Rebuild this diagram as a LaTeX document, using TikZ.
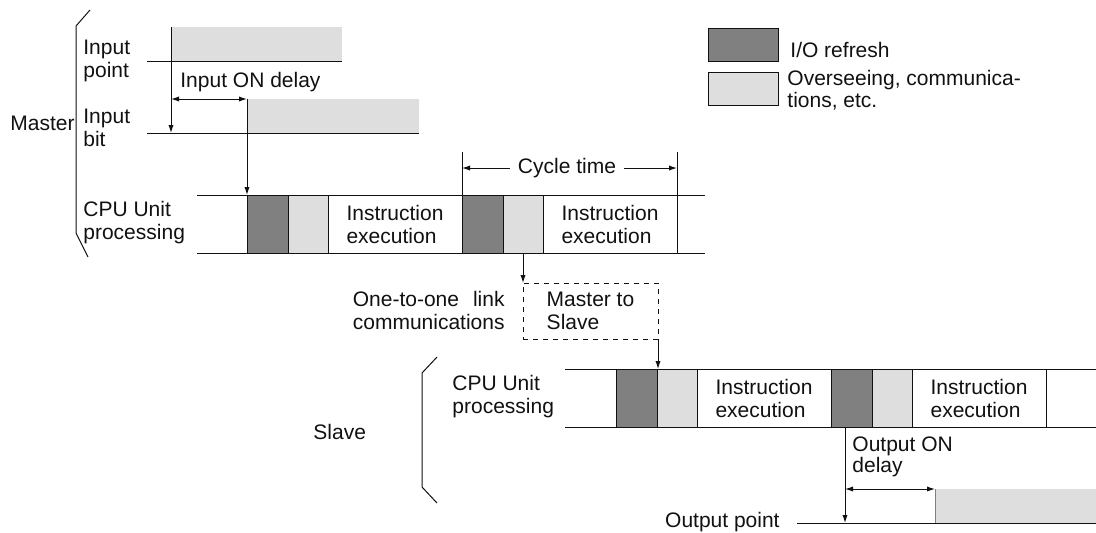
\documentclass[tikz,border=0pt]{standalone}
\usepackage{fontspec}
\setmainfont{Liberation Sans}
\usetikzlibrary{arrows.meta,positioning}
\definecolor{iofill}{HTML}{808080}
\definecolor{ovfill}{HTML}{DEDEDE}
\definecolor{ink}{HTML}{111111}
\tikzset{
  >={Latex[length=4pt,width=2.6pt]},
  every node/.style={font=\fontsize{10.5}{11.5}\selectfont,text=ink},
  lbl/.style={align=left,inner sep=0pt},
  blk/.style={draw=ink,line width=0.5pt,minimum height=29pt,inner sep=0pt,outer sep=0pt,align=left},
  iobox/.style={blk,fill=iofill,minimum width=20.5pt},
  ovbox/.style={blk,fill=ovfill,minimum width=20pt},
  exbox/.style={blk,fill=white,minimum width=67pt},
  sig/.style={fill=ovfill,draw=none,inner sep=0pt,outer sep=0pt,minimum height=17pt},
  msgbox/.style={draw=ink,line width=0.5pt,dash pattern=on 2.5pt off 2.5pt,inner sep=0pt,outer sep=0pt,minimum width=67.5pt,minimum height=28pt,align=left},
  rowline/.style={draw=ink,line width=0.5pt},
  arrow/.style={->,line width=0.5pt,draw=ink},
  span/.style={<->,line width=0.5pt,draw=ink},
}

\begin{document}
\begin{tikzpicture}[x=0.5pt,y=-0.5pt]
  \useasboundingbox (0,0) rectangle (1096,532);

  \node[iobox,minimum width=35pt,minimum height=16.5pt,anchor=north west] (legio) at (708,28) {};
  \node[ovbox,minimum width=35pt,minimum height=16.5pt,anchor=north west] (legov) at (708,72) {};
  \node[lbl,anchor=west] (legiolbl) at (790,50) {I/O refresh};
  \node[lbl,anchor=west,font=\fontsize{10.5}{9.5}\selectfont] (legovlbl) at (787,90) {Overseeing, communica-\\tions, etc.};

  \draw[rowline] (90,10) -- (76,26) -- (76,233) -- (88,257);
  \node[lbl,anchor=west] (master) at (10,123) {Master};
  \node[lbl,anchor=west] (iptlbl) at (83,61) {Input\\point};
  \node[lbl,anchor=west] (ibitlbl) at (83,128) {Input\\bit};
  \node[lbl,anchor=west] (mcpulbl) at (83,223) {CPU Unit\\processing};

  \node[sig,anchor=north west,minimum width=85.5pt] (ipt) at (171,27) {};
  \node[sig,anchor=north west,minimum width=86pt] (ibit) at (247,99) {};
  \coordinate (iptL) at (147,61);
  \coordinate (ibitL) at (147,133);
  \draw[rowline] (iptL) -- (ipt.south east);
  \draw[rowline] (ibitL) -- (ibit.south east);
  \node[lbl,anchor=west] (idlylbl) at (180,82) {Input ON delay};

  \draw[rowline] (197,195) -- (705,195) (197,253) -- (705,253);
  \node[iobox,anchor=north west] (mio1) at (247,195) {};
  \node[ovbox,right=0pt of mio1] (mov1) {};
  \node[exbox,right=0pt of mov1] (mex1) {Instruction\\execution};
  \node[iobox,right=0pt of mex1] (mio2) {};
  \node[ovbox,right=0pt of mio2] (mov2) {};
  \node[exbox,right=0pt of mov2] (mex2) {Instruction\\execution};

  \draw[arrow] (ipt.north west) -- (ipt.north west |- ibit.south);
  \draw[span] (ipt.west |- ibit.north) -- (ibit.north west);
  \draw[arrow] (ibit.north west) -- (mio1.north west);

  \node[inner xsep=4pt,inner ysep=0pt] (cyc) at (567,168) {Cycle time};
  \draw[rowline] (mio2.north west) -- ++(0,-43);
  \draw[rowline] (mex2.north east) -- ++(0,-43);
  \draw[arrow] (cyc.west) -- (cyc.west -| mio2.west);
  \draw[arrow] (cyc.east) -- (cyc.east -| mex2.east);

  \node[msgbox,anchor=north west] (msg) at (523,283) {Master to\\Slave};
  \node[lbl,anchor=east,align=right] (linklbl) at (505,310) {One-to-one\hspace{7pt}link\\communications};
  \draw[arrow] (mov2.south) -- (msg.north west);

  \draw[rowline] (437,357) -- (422,373) -- (422,487) -- (437,503);
  \node[lbl,anchor=west] (slave) at (313,432) {Slave};
  \node[lbl,anchor=west] (scpulbl) at (452,397) {CPU Unit\\processing};

  \draw[rowline] (565,369) -- (1096,369) (565,427) -- (1096,427);
  \node[iobox,anchor=north west] (sio1) at (616,369) {};
  \node[ovbox,right=0pt of sio1] (sov1) {};
  \node[exbox,right=0pt of sov1] (sex1) {Instruction\\execution};
  \node[iobox,right=0pt of sex1] (sio2) {};
  \node[ovbox,right=0pt of sio2] (sov2) {};
  \node[exbox,right=0pt of sov2] (sex2) {Instruction\\execution};
  \draw[arrow] (msg.south east) -- (msg.south east |- sov1.north);

  \node[sig,anchor=south west,minimum width=80.5pt] (opt) at (935,523) {};
  \coordinate (optL) at (797,523);
  \coordinate (odly) at (845,427);
  \draw[rowline] (optL) -- (opt.south east);
  \draw[draw=iofill,line width=0.5pt] (opt.north west) -- (opt.south west);
  \draw[arrow] (odly) -- (odly |- opt.south);
  \draw[span] (odly |- opt.north) -- (opt.north west);
  \node[lbl,anchor=west,font=\fontsize{10.5}{10.5}\selectfont] (odlylbl) at (852,457) {Output ON\\delay};
  \node[lbl,anchor=east] (optlbl) at (780,522) {Output point};
\end{tikzpicture}
\end{document}
